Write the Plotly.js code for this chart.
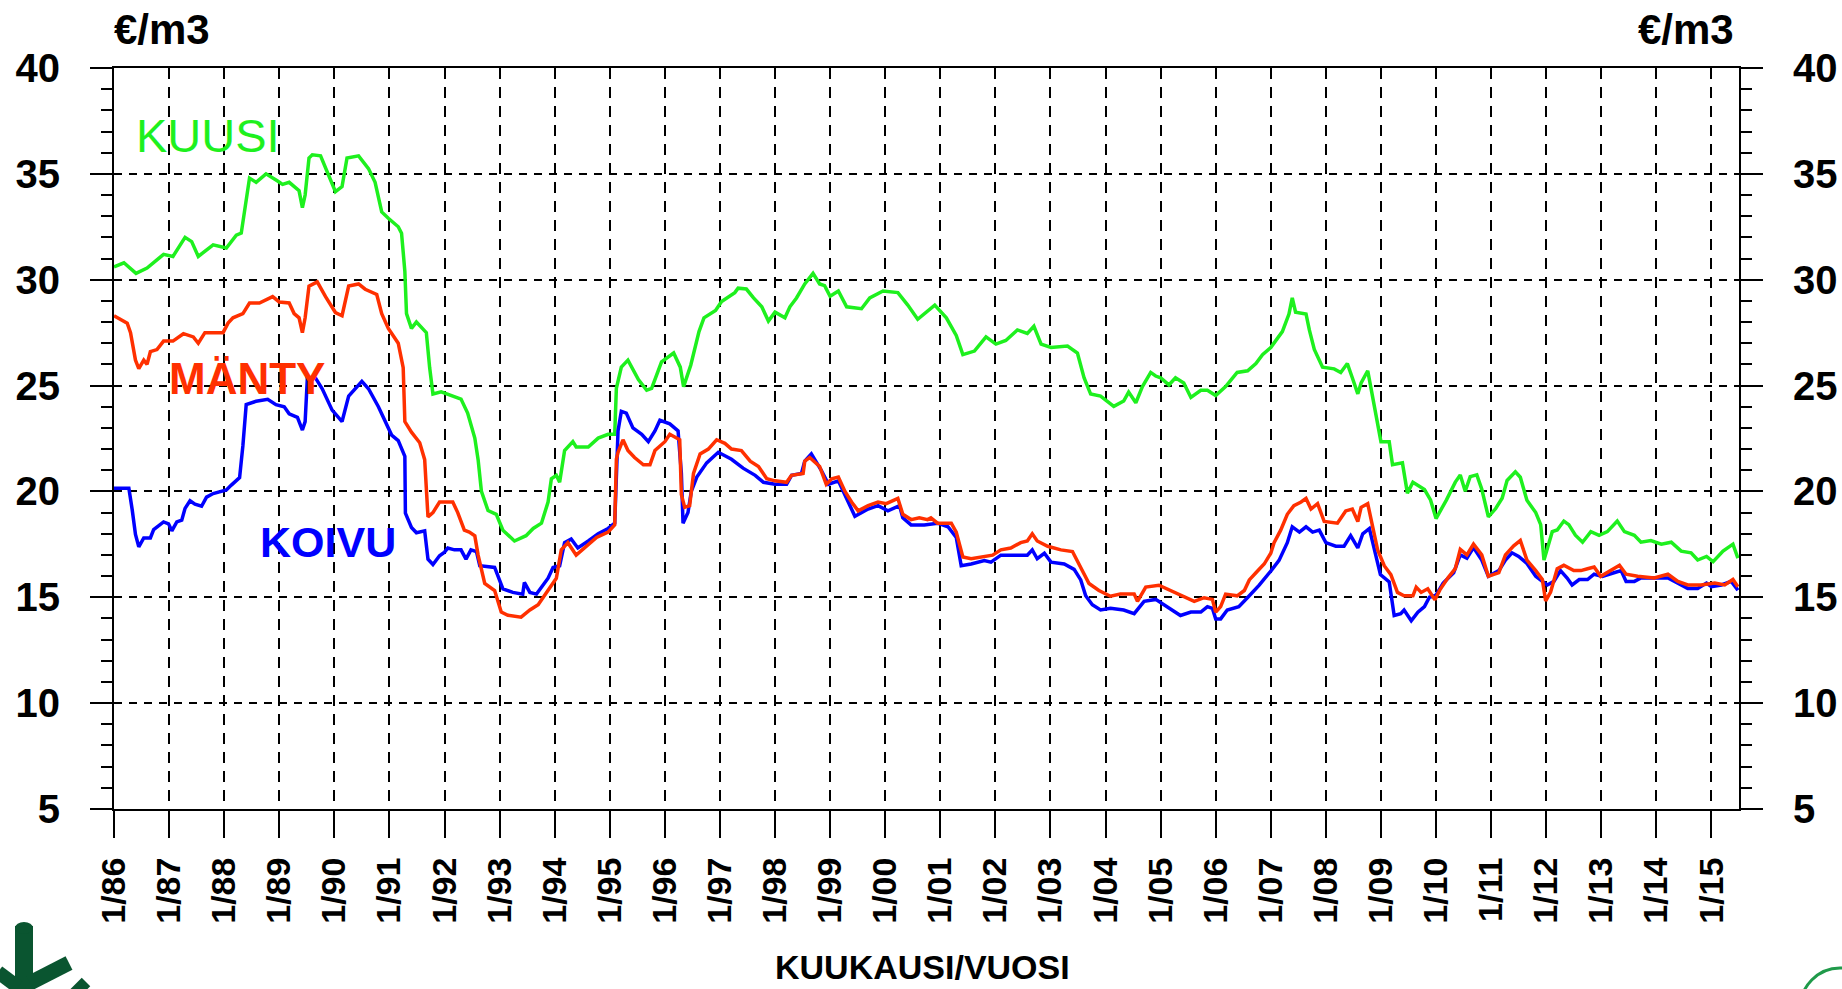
<!DOCTYPE html>
<html>
<head>
<meta charset="utf-8">
<script src="https://cdn.plot.ly/plotly-3.0.1.min.js"></script>
<style>
  html, body { margin: 0; padding: 0; background: #ffffff; }
  #chart { width: 1842px; height: 989px; }
</style>
</head>
<body>
<div id="chart"></div>
<script>
// ---------------- DATA ----------------
const yearTicks = [1986,1987,1988,1989,1990,1991,1992,1993,1994,1995,1996,1997,1998,1999,2000,
                   2001,2002,2003,2004,2005,2006,2007,2008,2009,2010,2011,2012,2013,2014,2015];
const yearLabels = ["1/86","1/87","1/88","1/89","1/90","1/91","1/92","1/93","1/94","1/95","1/96","1/97","1/98","1/99","1/00",
                    "1/01","1/02","1/03","1/04","1/05","1/06","1/07","1/08","1/09","1/10","1/11","1/12","1/13","1/14","1/15"];
const valueTicks = [5,10,15,20,25,30,35,40];

// KUUSI (spruce)
const kuusiYears = [1986.00,1986.18,1986.40,1986.60,1986.90,1987.07,1987.29,1987.41,1987.53,1987.80,1988.04,1988.22,1988.31,1988.37,1988.46,1988.58,1988.76,1988.97,
  1989.06,1989.18,1989.36,1989.42,1989.47,1989.54,1989.60,1989.75,1989.84,1990.02,1990.14,1990.23,1990.44,1990.62,1990.74,1990.86,1990.98,1991.16,1991.22,1991.28,1991.31,
  1991.40,1991.49,1991.67,1991.73,1991.79,1991.94,1992.12,1992.30,1992.42,1992.55,1992.61,1992.67,1992.79,1992.94,1993.06,1993.27,1993.48,1993.61,1993.76,1993.88,1993.94,
  1994.03,1994.09,1994.18,1994.33,1994.39,1994.61,1994.79,1994.97,1995.09,1995.12,1995.21,1995.33,1995.52,1995.67,1995.76,1995.94,1996.16,1996.28,1996.34,1996.47,1996.62,
  1996.71,1996.92,1997.03,1997.27,1997.33,1997.48,1997.61,1997.76,1997.88,1998.00,1998.18,1998.27,1998.39,1998.54,1998.69,1998.81,1998.90,1999.00,1999.15,1999.30,1999.57,
  1999.72,1999.96,2000.23,2000.41,2000.59,2000.90,2001.11,2001.29,2001.41,2001.62,2001.83,2002.01,2002.19,2002.40,2002.58,2002.70,2002.83,2003.01,2003.31,2003.49,2003.61,
  2003.73,2003.91,2004.15,2004.33,2004.42,2004.55,2004.67,2004.82,2004.91,2005.00,2005.15,2005.27,2005.42,2005.55,2005.73,2005.85,2006.00,2006.18,2006.39,2006.58,2006.73,
  2006.85,2007.00,2007.21,2007.33,2007.39,2007.45,2007.64,2007.70,2007.79,2007.94,2008.15,2008.27,2008.39,2008.48,2008.58,2008.64,2008.76,2008.82,2008.94,2009.00,2009.15,
  2009.21,2009.39,2009.48,2009.58,2009.79,2009.90,2010.00,2010.19,2010.35,2010.44,2010.53,2010.62,2010.74,2010.83,2010.95,2011.08,2011.20,2011.29,2011.44,2011.53,2011.65,
  2011.81,2011.90,2011.96,2012.02,2012.11,2012.20,2012.32,2012.41,2012.53,2012.66,2012.81,2012.96,2013.11,2013.29,2013.42,2013.60,2013.72,2013.90,2014.09,2014.27,2014.45,
  2014.63,2014.75,2014.91,2015.03,2015.21,2015.39,2015.48];
const kuusiValues = [30.6,30.8,30.3,30.55,31.2,31.1,32.0,31.8,31.1,31.65,31.5,32.1,32.2,33.2,34.8,34.6,35.0,34.66,
  34.5,34.6,34.2,33.4,34.0,35.75,35.9,35.85,35.25,34.16,34.4,35.75,35.85,35.25,34.6,33.2,32.9,32.5,32.2,30.4,28.4,
  27.7,28.0,27.5,25.85,24.6,24.7,24.53,24.36,23.7,22.52,21.5,20.0,19.1,18.92,18.17,17.66,17.91,18.25,18.5,19.5,20.6,
  20.76,20.43,21.93,22.35,22.1,22.1,22.52,22.7,22.7,24.87,25.87,26.2,25.28,24.78,24.87,26.12,26.54,25.87,24.95,25.96,27.55,
  28.2,28.55,28.97,29.39,29.6,29.56,29.14,28.72,28.05,28.47,28.2,28.72,29.14,29.8,30.3,29.8,29.72,29.22,29.47,28.72,28.63,
  29.14,29.47,29.39,28.8,28.13,28.8,28.2,27.37,26.46,26.63,27.3,26.96,27.13,27.63,27.46,27.8,26.96,26.8,26.87,26.54,25.37,
  24.6,24.5,24.02,24.27,24.69,24.19,24.95,25.62,25.45,25.37,25.03,25.37,25.12,24.44,24.78,24.78,24.53,24.95,25.62,25.7,26.04,
  26.46,26.8,27.55,28.38,29.14,28.47,28.38,27.63,26.71,25.87,25.79,25.62,26.04,25.37,24.61,25.12,25.7,24.87,23.19,22.35,22.35,
  21.26,21.35,19.92,20.43,20.09,19.6,18.72,19.6,20.44,20.78,20.01,20.7,20.78,20.11,18.8,19.18,19.68,20.52,20.93,20.67,19.58,
  19.0,18.43,16.76,17.26,18.1,18.18,18.6,18.43,17.93,17.6,18.1,17.93,18.1,18.6,18.1,17.93,17.6,17.68,17.51,17.6,17.18,
  17.1,16.76,16.93,16.68,17.18,17.51,16.85];

// MÄNTY (pine)
const mantyYears = [1986.00,1986.24,1986.30,1986.39,1986.45,1986.54,1986.60,1986.66,1986.78,1986.90,1987.07,1987.26,1987.44,1987.53,1987.65,1987.98,1988.07,1988.16,
  1988.34,1988.46,1988.64,1988.88,1989.00,1989.18,1989.27,1989.36,1989.42,1989.47,1989.54,1989.69,1989.84,1990.02,1990.14,1990.26,1990.44,1990.56,1990.77,1990.86,1990.98,
  1991.16,1991.25,1991.28,1991.40,1991.55,1991.64,1991.70,1991.79,1991.91,1992.15,1992.24,1992.36,1992.45,1992.55,1992.61,1992.73,1992.91,1993.03,1993.15,1993.39,1993.55,
  1993.70,1993.88,1994.03,1994.12,1994.24,1994.39,1994.61,1994.76,1994.97,1995.09,1995.12,1995.15,1995.24,1995.33,1995.45,1995.61,1995.73,1995.82,1996.00,1996.09,1996.27,
  1996.30,1996.36,1996.45,1996.52,1996.64,1996.79,1996.94,1997.09,1997.21,1997.39,1997.55,1997.70,1997.85,1998.00,1998.21,1998.30,1998.51,1998.54,1998.63,1998.81,1998.93,
  1999.03,1999.15,1999.27,1999.39,1999.51,1999.69,1999.87,2000.02,2000.23,2000.32,2000.47,2000.62,2000.77,2000.83,2000.95,2001.20,2001.29,2001.41,2001.56,2001.80,2001.95,
  2002.10,2002.28,2002.46,2002.58,2002.67,2002.76,2002.95,2003.19,2003.40,2003.55,2003.70,2003.88,2004.09,2004.27,2004.52,2004.58,2004.73,2004.97,2005.18,2005.36,2005.61,
  2005.79,2005.94,2006.00,2006.09,2006.18,2006.39,2006.52,2006.61,2006.73,2006.88,2007.00,2007.06,2007.18,2007.30,2007.42,2007.55,2007.64,2007.73,2007.85,2007.97,2008.21,
  2008.36,2008.48,2008.58,2008.64,2008.76,2008.85,2008.94,2009.06,2009.18,2009.30,2009.42,2009.58,2009.64,2009.73,2009.85,2009.98,2010.07,2010.22,2010.35,2010.44,2010.56,
  2010.68,2010.83,2010.95,2011.14,2011.26,2011.41,2011.53,2011.65,2011.81,2011.93,2011.99,2012.08,2012.20,2012.32,2012.50,2012.63,2012.75,2012.87,2012.99,2013.11,2013.33,
  2013.45,2013.66,2013.96,2014.21,2014.39,2014.57,2014.81,2015.06,2015.24,2015.39,2015.48];
const mantyValues = [28.3,27.95,27.5,26.2,25.8,26.2,26.0,26.6,26.7,27.1,27.1,27.45,27.3,27.0,27.5,27.5,27.95,28.2,
  28.4,28.9,28.9,29.2,28.95,28.9,28.4,28.2,27.5,28.2,29.7,29.9,29.2,28.45,28.3,29.7,29.8,29.55,29.3,28.4,27.7,
  27.0,25.85,23.3,22.8,22.3,21.5,18.8,19.0,19.5,19.5,19.0,18.17,18.08,17.9,16.99,15.65,15.32,14.3,14.15,14.06,14.4,
  14.65,15.32,15.9,17.24,17.58,16.99,17.5,17.83,18.08,18.42,21.52,21.85,22.44,21.93,21.6,21.26,21.26,21.93,22.35,22.7,22.44,
  19.85,19.25,19.33,20.85,21.77,22.0,22.44,22.27,22.0,21.93,21.43,21.18,20.6,20.5,20.43,20.76,20.85,21.43,21.6,21.18,20.34,
  20.6,20.68,20.0,19.5,19.08,19.33,19.5,19.42,19.67,18.92,18.67,18.75,18.67,18.75,18.5,18.5,18.08,16.9,16.82,16.9,16.99,
  17.24,17.33,17.58,17.66,18.0,17.66,17.41,17.24,17.16,16.41,15.65,15.32,15.05,15.15,15.15,14.81,15.48,15.57,15.32,15.15,14.81,
  14.98,14.9,14.3,14.56,15.15,15.07,15.32,15.82,16.16,16.57,17.08,17.58,18.17,18.92,19.33,19.5,19.67,19.17,19.42,18.58,18.5,
  19.08,19.17,18.58,19.25,19.42,18.33,17.24,16.49,16.07,15.23,15.07,15.07,15.48,15.23,15.4,14.88,15.35,15.93,16.35,17.26,17.0,
  17.51,17.0,15.99,16.16,17.0,17.43,17.68,16.76,16.26,15.84,14.83,15.25,16.35,16.51,16.26,16.26,16.35,16.43,15.99,16.16,16.51,
  16.09,15.99,15.91,16.09,15.75,15.58,15.58,15.67,15.58,15.84,15.5];

// KOIVU (birch)
const koivuYears = [1986.00,1986.27,1986.33,1986.39,1986.45,1986.54,1986.66,1986.72,1986.90,1986.99,1987.05,1987.14,1987.23,1987.29,1987.38,1987.47,1987.59,1987.68,
  1987.80,1988.04,1988.13,1988.28,1988.34,1988.40,1988.58,1988.79,1988.94,1989.09,1989.18,1989.33,1989.42,1989.47,1989.51,1989.66,1989.78,1989.96,1990.14,1990.26,1990.50,
  1990.62,1990.80,1990.92,1991.04,1991.16,1991.28,1991.29,1991.40,1991.49,1991.64,1991.70,1991.79,1991.91,1992.00,1992.06,1992.18,1992.30,1992.39,1992.48,1992.58,1992.64,
  1992.91,1993.06,1993.24,1993.42,1993.45,1993.55,1993.67,1993.88,1993.97,1994.09,1994.18,1994.30,1994.42,1994.61,1994.79,1994.97,1995.09,1995.15,1995.21,1995.30,1995.42,
  1995.58,1995.70,1995.82,1995.91,1996.09,1996.24,1996.30,1996.33,1996.42,1996.48,1996.58,1996.76,1996.97,1997.21,1997.42,1997.64,1997.79,1998.00,1998.21,1998.30,1998.48,
  1998.54,1998.66,1998.84,1998.97,1999.15,1999.27,1999.45,1999.69,1999.87,2000.05,2000.26,2000.32,2000.47,2000.71,2000.95,2001.14,2001.29,2001.38,2001.56,2001.80,2001.92,
  2002.10,2002.34,2002.58,2002.67,2002.76,2002.89,2003.01,2003.25,2003.43,2003.55,2003.64,2003.76,2003.91,2004.09,2004.33,2004.52,2004.70,2004.91,2005.12,2005.36,2005.55,
  2005.73,2005.85,2005.94,2006.00,2006.09,2006.21,2006.42,2006.61,2006.79,2007.00,2007.15,2007.30,2007.39,2007.52,2007.64,2007.76,2007.88,2008.00,2008.18,2008.33,2008.45,
  2008.58,2008.67,2008.79,2008.88,2008.99,2009.15,2009.24,2009.36,2009.42,2009.55,2009.67,2009.79,2009.88,2010.00,2010.13,2010.32,2010.44,2010.56,2010.68,2010.83,2010.95,
  2011.14,2011.26,2011.38,2011.50,2011.65,2011.81,2011.93,2012.02,2012.14,2012.26,2012.38,2012.47,2012.60,2012.75,2012.87,2013.02,2013.23,2013.36,2013.45,2013.60,2013.72,
  2013.96,2014.21,2014.39,2014.57,2014.75,2014.91,2015.00,2015.18,2015.36,2015.48];
const koivuValues = [20.15,20.15,19.14,17.97,17.38,17.8,17.8,18.2,18.56,18.47,18.14,18.56,18.64,19.2,19.56,19.4,19.3,19.73,
  19.9,20.07,20.3,20.65,22.16,24.1,24.26,24.35,24.1,24.0,23.67,23.5,22.9,23.3,25.35,25.35,24.85,23.84,23.3,24.5,25.2,
  24.85,24.0,23.3,22.66,22.4,21.66,18.97,18.3,18.05,18.14,16.8,16.55,16.96,17.13,17.33,17.24,17.24,16.8,17.24,17.16,16.49,
  16.41,15.4,15.23,15.15,15.7,15.23,15.15,15.9,16.41,16.49,17.58,17.75,17.33,17.66,18.0,18.25,18.5,22.86,23.78,23.7,23.0,
  22.7,22.35,22.86,23.36,23.19,22.86,20.85,18.5,19.0,20.0,20.68,21.35,21.85,21.52,21.1,20.76,20.43,20.34,20.34,20.76,20.85,
  21.43,21.77,21.0,20.34,20.5,19.83,18.83,19.17,19.33,19.08,19.33,18.75,18.42,18.42,18.5,18.33,17.83,16.49,16.57,16.74,16.66,
  16.99,16.99,16.99,17.24,16.82,17.08,16.66,16.57,16.32,15.82,15.07,14.65,14.4,14.48,14.4,14.23,14.81,14.9,14.56,14.14,14.3,
  14.3,14.56,14.48,13.98,13.98,14.4,14.56,15.07,15.57,16.24,16.74,17.58,18.33,18.08,18.33,18.08,18.17,17.58,17.41,17.41,17.91,
  17.33,18.0,18.25,17.33,16.07,15.73,14.14,14.23,14.4,13.89,14.3,14.56,15.0,15.1,15.67,16.16,17.0,16.85,17.35,16.76,15.99,
  16.26,16.76,17.1,16.93,16.6,15.99,15.75,15.58,15.75,16.26,15.91,15.58,15.84,15.84,16.09,15.99,16.16,16.26,15.75,15.75,15.91,
  15.91,15.91,15.67,15.42,15.42,15.67,15.5,15.58,15.75,15.33];

const seriesNames = ["KUUSI", "MÄNTY", "KOIVU"];
const unitLabel = "€/m3";
const xTitle = "KUUKAUSI/VUOSI";

// ---------------- STYLE / LAYOUT ----------------
const GREEN = "#1ef01e", RED = "#ff3000", BLUE = "#0000ff", LOGO = "#0a5530";
const W = 1842, H = 989;
const M = {l: 114, r: 103, t: 68, b: 180};
const PW = W - M.l - M.r, PH = H - M.t - M.b;
const px2paperX = p => (p - M.l) / PW;
const px2paperY = p => (H - M.b - p) / PH;

const FONT = "Liberation Sans, Arial, Helvetica, sans-serif";
const lineW = 3.5;

const traces = [
  {x: kuusiYears, y: kuusiValues, name: seriesNames[0], type: "scatter", mode: "lines",
   line: {color: GREEN, width: lineW}, hoverinfo: "x+y"},
  {x: koivuYears, y: koivuValues, name: seriesNames[2], type: "scatter", mode: "lines",
   line: {color: BLUE, width: lineW}, hoverinfo: "x+y"},
  {x: mantyYears, y: mantyValues, name: seriesNames[1], type: "scatter", mode: "lines",
   line: {color: RED, width: lineW}, hoverinfo: "x+y"},
  {x: [yearTicks[0]], y: [valueTicks[0]], yaxis: "y2", type: "scatter", mode: "markers",
   marker: {opacity: 0}, hoverinfo: "skip", showlegend: false}
];

const yCommon = {
  range: [5, 40], tickvals: valueTicks, ticks: "outside", ticklen: 22, tickwidth: 2, tickcolor: "#000",
  showline: true, linewidth: 2, linecolor: "#000", zeroline: false,
  tickfont: {family: FONT, size: 40, color: "#000", weight: "bold"},
  minor: {tickvals: [6,7,8,9,11,12,13,14,16,17,18,19,21,22,23,24,26,27,28,29,31,32,33,34,36,37,38,39],
          ticks: "outside", ticklen: 11, tickwidth: 2, tickcolor: "#000", showgrid: false},
  fixedrange: true
};

const layout = {
  width: W, height: H,
  margin: M,
  paper_bgcolor: "#ffffff", plot_bgcolor: "#ffffff",
  showlegend: false,
  xaxis: {
    range: [1986, 2015.5], tickvals: yearTicks, ticktext: yearLabels, tickangle: -90,
    ticks: "outside", ticklen: 27, tickwidth: 2, tickcolor: "#000",
    showline: true, linewidth: 2, linecolor: "#000", mirror: true,
    showgrid: true, gridcolor: "#000", gridwidth: 2, griddash: "11px,8px",
    zeroline: false,
    tickfont: {family: FONT, size: 34, color: "#000", weight: "bold"},
    ticklabelstandoff: 6,
    fixedrange: true
  },
  yaxis: Object.assign({}, yCommon, {
    side: "left", showgrid: true, gridcolor: "#000", gridwidth: 2, griddash: "8px,7px",
    ticklabelstandoff: 22
  }),
  yaxis2: Object.assign({}, yCommon, {
    side: "right", overlaying: "y", showgrid: false, ticklabelstandoff: 22
  }),
  annotations: [
    {text: unitLabel, xref: "paper", yref: "paper", x: px2paperX(112), y: px2paperY(29),
     xanchor: "left", yanchor: "middle", showarrow: false,
     font: {family: FONT, size: 42, color: "#000", weight: "bold"}},
    {text: unitLabel, xref: "paper", yref: "paper", x: px2paperX(1736), y: px2paperY(29),
     xanchor: "right", yanchor: "middle", showarrow: false,
     font: {family: FONT, size: 42, color: "#000", weight: "bold"}},
    {text: seriesNames[0], xref: "x", yref: "y", x: 1987.71, y: 36.8,
     xanchor: "center", yanchor: "middle", showarrow: false,
     font: {family: FONT, size: 47, color: GREEN}},
    {text: seriesNames[1], xref: "x", yref: "y", x: 1988.42, y: 25.35,
     xanchor: "center", yanchor: "middle", showarrow: false,
     font: {family: FONT, size: 44, color: RED, weight: "bold"}},
    {text: seriesNames[2], xref: "x", yref: "y", x: 1989.89, y: 17.6,
     xanchor: "center", yanchor: "middle", showarrow: false,
     font: {family: FONT, size: 43, color: BLUE, weight: "bold"}},
    {text: xTitle, xref: "paper", yref: "paper", x: px2paperX(922), y: px2paperY(988),
     xanchor: "center", yanchor: "bottom", showarrow: false,
     font: {family: "Liberation Sans Narrow, Arial Narrow, " + FONT, size: 34, color: "#000", weight: "bold"}}
  ],
  shapes: [
    // partial logo, bottom-left (dark green tree mark)
    {type: "rect", xref: "paper", yref: "paper", x0: px2paperX(15), x1: px2paperX(33), y0: px2paperY(995), y1: px2paperY(926),
     fillcolor: LOGO, line: {width: 0}},
    {type: "circle", xref: "paper", yref: "paper", x0: px2paperX(15), x1: px2paperX(33), y0: px2paperY(934), y1: px2paperY(922),
     fillcolor: LOGO, line: {width: 0}},
    {type: "line", xref: "paper", yref: "paper", x0: px2paperX(30), y0: px2paperY(983), x1: px2paperX(69), y1: px2paperY(963),
     line: {color: LOGO, width: 15}},
    {type: "line", xref: "paper", yref: "paper", x0: px2paperX(-2), y0: px2paperY(972), x1: px2paperX(18), y1: px2paperY(987),
     line: {color: LOGO, width: 14}},
    {type: "line", xref: "paper", yref: "paper", x0: px2paperX(74), y0: px2paperY(994), x1: px2paperX(86), y1: px2paperY(982),
     line: {color: LOGO, width: 12}},
    // partial logo, bottom-right (green ring)
    {type: "circle", xref: "paper", yref: "paper", x0: px2paperX(1800), x1: px2paperX(1880), y0: px2paperY(1050), y1: px2paperY(968),
     line: {color: "#1f9a4a", width: 3}}
  ]
};

Plotly.newPlot("chart", traces, layout, {displayModeBar: false, staticPlot: true});
</script>
</body>
</html>
